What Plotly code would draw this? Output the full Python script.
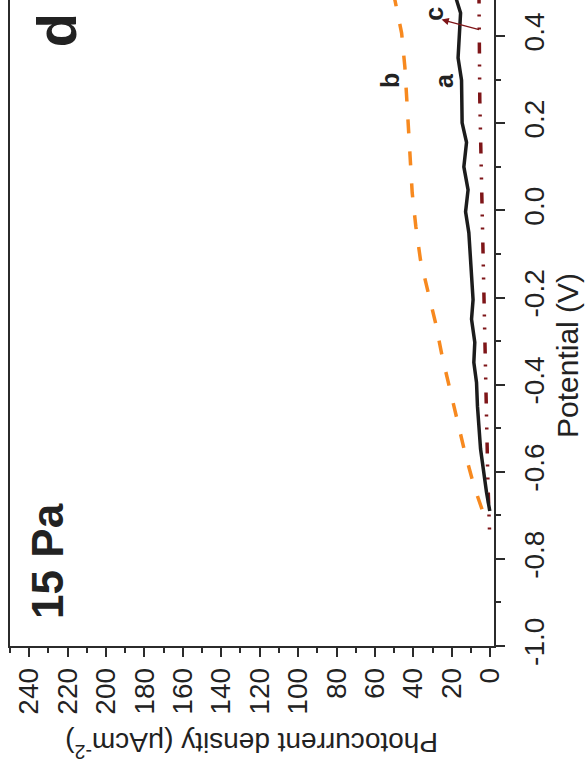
import plotly.graph_objects as go

# ---- data (photocurrent density in uA/cm^2 vs potential in V) ----
a_potential = [0.50, 0.483, 0.453, 0.407, 0.350, 0.299, 0.254, 0.201, 0.156, 0.100, 0.047, -0.003,
               -0.051, -0.129, -0.205, -0.250, -0.303, -0.349, -0.395, -0.450, -0.548, -0.647, -0.690]
a_current = [18.0, 17.5, 15.4, 15.8, 16.7, 14.9, 14.8, 14.6, 12.3, 13.7, 11.5, 12.8,
             11.1, 10.2, 8.9, 9.7, 8.0, 8.5, 7.1, 6.6, 5.0, 1.9, 0.2]

b_potential = [0.50, 0.483, 0.407, 0.329, 0.254, 0.192, 0.100, 0.041, -0.037, -0.113, -0.188,
               -0.257, -0.335, -0.406, -0.473, -0.555, -0.633, -0.693, -0.716]
b_current = [50.5, 49.6, 46.1, 44.4, 43.4, 42.6, 41.3, 40.6, 38.7, 36.3, 32.3,
             28.5, 25.0, 21.2, 17.9, 13.2, 8.4, 3.7, -0.3]

c_potential = [0.50, 0.483, 0.254, 0.024, -0.205, -0.434, -0.617, -0.752]
c_current = [5.9, 5.8, 5.4, 4.4, 3.3, 2.3, 1.2, 0.2]

current_ticks = [0, 20, 40, 60, 80, 100, 120, 140, 160, 180, 200, 220, 240]
current_ticktext = [str(v) for v in current_ticks]
potential_ticks = [-1.0, -0.8, -0.6, -0.4, -0.2, 0.0, 0.2, 0.4]
potential_ticktext = ["-1.0", "-0.8", "-0.6", "-0.4", "-0.2", "0.0", "0.2", "0.4"]

FONT = "Liberation Sans, Arial, Helvetica, sans-serif"
AX = "#2b2b2b"

fig = go.Figure()
fig.add_trace(go.Scatter(x=b_current, y=b_potential, mode="lines",
                         line=dict(color="#F7891F", width=3.5, dash="14px,18px"), showlegend=False))
fig.add_trace(go.Scatter(x=c_current, y=c_potential, mode="lines",
                         line=dict(color="#7E1518", width=3.5, dash="11px,11px,2px,11px,2px,13px"),
                         showlegend=False))
fig.add_trace(go.Scatter(x=a_current, y=a_potential, mode="lines",
                         line=dict(color="#1c1c1c", width=3.5), showlegend=False))

annotations = [
    dict(text="Potential (V)", xref="paper", yref="paper", x=1.153, y=0.449, textangle=-90,
         showarrow=False, xanchor="center", yanchor="middle", font=dict(size=30, color="#222", family=FONT)),
    dict(text="Photocurrent density (μAcm<sup>-2</sup>)", xref="paper", yref="paper", x=0.5, y=-0.153,
         textangle=180, showarrow=False, xanchor="center", yanchor="middle",
         font=dict(size=28, color="#222", family=FONT)),
    dict(text="<b>15 Pa</b>", x=230.6, y=-0.804, textangle=-90, showarrow=False,
         xanchor="center", yanchor="middle", font=dict(size=44, color="#222", family=FONT)),
    dict(text="<b>d</b>", x=226, y=0.414, textangle=-90, showarrow=False,
         xanchor="center", yanchor="middle", font=dict(size=56, color="#222", family=FONT)),
    dict(text="<b>b</b>", x=52.2, y=0.299, textangle=-90, showarrow=False,
         xanchor="center", yanchor="middle", font=dict(size=25, color="#222", family=FONT)),
    dict(text="<b>a</b>", x=24.1, y=0.299, textangle=-90, showarrow=False,
         xanchor="center", yanchor="middle", font=dict(size=25, color="#222", family=FONT)),
    dict(text="<b>c</b>", x=29.3, y=0.451, textangle=-90, showarrow=False,
         xanchor="center", yanchor="middle", font=dict(size=25, color="#222", family=FONT)),
    dict(text="", x=25.3, y=0.438, ax=5.0, ay=0.414, axref="x", ayref="y", showarrow=True,
         arrowhead=2, arrowsize=1.2, arrowwidth=1.2, arrowcolor="#7E1518", standoff=0),
]

fig.update_layout(
    width=588, height=782,
    margin=dict(l=10, r=94, t=0, b=136, pad=0),
    paper_bgcolor="white", plot_bgcolor="white",
    font=dict(family=FONT, color="#222"),
    annotations=annotations,
    xaxis=dict(range=[250, -2], showgrid=False, zeroline=False, showline=True, linecolor=AX,
               linewidth=1.5, mirror=False, ticks="outside", ticklen=9, tickwidth=1.5, tickcolor=AX,
               tickvals=current_ticks, ticktext=current_ticktext, tickangle=-90,
               tickfont=dict(size=28, family=FONT, color="#222"), ticklabelstandoff=0,
               minor=dict(dtick=10, tick0=0, ticks="outside", ticklen=5, tickwidth=1.5, tickcolor=AX)),
    yaxis=dict(range=[-1.0, 0.483], side="right", showgrid=False, zeroline=False, showline=True,
               linecolor=AX, linewidth=1.5, mirror=True, ticks="outside", ticklen=9, tickwidth=1.5,
               tickcolor=AX, tickvals=potential_ticks, ticktext=potential_ticktext, tickangle=-90,
               tickfont=dict(size=28, family=FONT, color="#222"), ticklabelstandoff=6,
               minor=dict(dtick=0.1, tick0=0, ticks="outside", ticklen=5, tickwidth=1.5, tickcolor=AX)),
)

fig.write_html("out.html")
